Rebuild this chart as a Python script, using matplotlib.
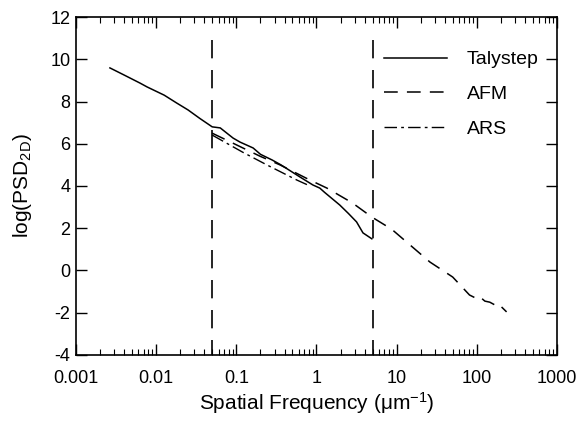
import matplotlib
matplotlib.use('Agg')
import matplotlib.pyplot as plt
from matplotlib.ticker import LogLocator, NullFormatter
import numpy as np

plt.rcParams['font.family'] = ['Liberation Sans', 'DejaVu Sans']
plt.rcParams['mathtext.default'] = 'regular'
plt.rcParams['axes.unicode_minus'] = False

# data
taly_x = [0.00265, 0.0040, 0.0063, 0.0077, 0.0126, 0.018, 0.025, 0.035, 0.05,
          0.063, 0.091, 0.111, 0.162, 0.2, 0.28, 0.36, 0.62, 0.9, 1.1, 1.26,
          1.95, 2.5, 3.16, 3.8, 4.9]
taly_y = [9.59, 9.25, 8.87, 8.69, 8.3, 7.93, 7.6, 7.2, 6.8,
          6.75, 6.27, 6.08, 5.8, 5.5, 5.23, 5.0, 4.43, 4.05, 3.9, 3.7,
          3.1, 2.7, 2.3, 1.78, 1.5]

afm_x = [0.05, 0.085, 0.1, 0.2, 0.35, 0.83, 1.35, 2.8, 4.9, 7.8, 9.0, 26, 50,
         81, 96, 107, 126, 145, 166, 182, 200, 235]
afm_y = [6.5, 6.08, 5.95, 5.4, 5.0, 4.28, 3.9, 3.2, 2.53, 2.06, 1.9, 0.4, -0.31,
         -1.16, -1.3, -1.22, -1.45, -1.5, -1.62, -1.55, -1.7, -1.96]

ars_x = [0.05, 0.12, 0.24, 0.57, 0.83]
ars_y = [6.41, 5.6, 5.0, 4.28, 4.0]

vline_x = [0.05, 5.0]
vline_y = [10.9, -4.0]

xtick_vals = [0.001, 0.01, 0.1, 1, 10, 100, 1000]
xtick_labels = ['0.001', '0.01', '0.1', '1', '10', '100', '1000']

fig = plt.figure(figsize=(5.81, 4.21), dpi=100)
ax = fig.add_axes([0.1308, 0.1568, 0.8279, 0.8028])

ax.plot(taly_x, taly_y, color='k', lw=1.1, label='Talystep')
ax.plot(afm_x, afm_y, color='k', lw=1.1, dashes=[9, 6], label='AFM')
ax.plot(ars_x, ars_y, color='k', lw=1.0, dashes=[9, 3, 2, 3], label='ARS')
for xv in vline_x:
    ax.plot([xv, xv], vline_y, color='k', lw=1.2, dashes=[11, 7])

ax.set_xscale('log')
ax.set_xlim(0.001, 1000)
ax.set_ylim(-4, 12)
ax.set_yticks(np.arange(-4, 13, 2))
ax.set_xticks(xtick_vals)
ax.set_xticklabels(xtick_labels)
ax.xaxis.set_minor_locator(LogLocator(base=10, subs=np.arange(2, 10)))
ax.xaxis.set_minor_formatter(NullFormatter())

ax.tick_params(which='major', direction='in', length=8, width=1, top=True, right=True,
               labelsize=13)
ax.tick_params(axis='x', which='major', pad=11)
ax.tick_params(axis='y', which='major', pad=4)
ax.tick_params(which='minor', direction='in', length=4, width=0.8, top=True, right=True)
for s in ax.spines.values():
    s.set_linewidth(1.2)

ax.set_xlabel('Spatial Frequency (\u03bcm$^{-1}$)', fontsize=15, labelpad=2)
ax.set_ylabel('log(PSD$_{2D}$)', fontsize=15, labelpad=12)

ax.legend(loc='upper left', bbox_to_anchor=(0.64, 0.90), frameon=False, fontsize=14,
          handlelength=3.25, handletextpad=1.0, labelspacing=0.88, borderpad=0,
          borderaxespad=0)

fig.savefig('out.png', dpi=100)
